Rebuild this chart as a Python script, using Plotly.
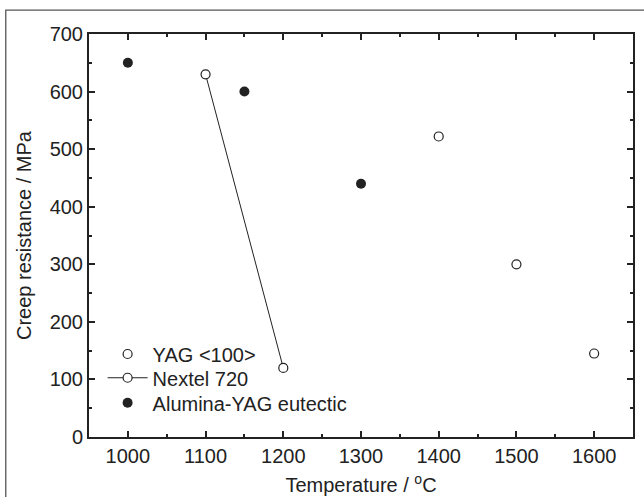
import plotly.graph_objects as go

# Data
yag_T = [1400, 1500, 1600]
yag_S = [522, 300, 145]
nextel_T = [1100, 1200]
nextel_S = [630, 120]
eut_T = [1000, 1150, 1300]
eut_S = [650, 600, 440]

x_ticks = [1000, 1100, 1200, 1300, 1400, 1500, 1600]
y_ticks = [0, 100, 200, 300, 400, 500, 600, 700]

FONT = "Liberation Sans, Arial, sans-serif"
INK = "#222222"
FS = 20

fig = go.Figure()
fig.add_trace(go.Scatter(
    x=yag_T, y=yag_S, mode="markers", name="YAG &lt;100&gt;", legend="legend",
    marker=dict(symbol="circle-open", size=9, color=INK, line=dict(width=1.2, color=INK)),
))
fig.add_trace(go.Scatter(
    x=nextel_T, y=nextel_S, mode="lines+markers", name="Nextel 720", legend="legend2",
    line=dict(color=INK, width=1),
    marker=dict(symbol="circle", size=9, color="white", line=dict(width=1.2, color=INK)),
))
fig.add_trace(go.Scatter(
    x=eut_T, y=eut_S, mode="markers", name="Alumina-YAG eutectic", legend="legend3",
    marker=dict(symbol="circle", size=10, color=INK, line=dict(width=0)),
))

axis_common = dict(
    showline=True, linecolor=INK, linewidth=2, mirror="allticks",
    ticks="inside", ticklen=6, tickwidth=2, tickcolor=INK,
    showgrid=False, zeroline=False, automargin=False,
    tickfont=dict(family=FONT, size=FS, color=INK),
)

fig.update_xaxes(
    range=[950, 1650], tickvals=x_ticks,
    minor=dict(dtick=50, ticks="inside", ticklen=3, tickwidth=2, tickcolor=INK),
    title=dict(text="Temperature / <sup>o</sup>C", font=dict(family=FONT, size=FS, color=INK), standoff=12),
    **axis_common,
)
fig.update_yaxes(
    range=[0, 700], tickvals=y_ticks,
    minor=dict(dtick=50, ticks="inside", ticklen=3, tickwidth=2, tickcolor=INK),
    title=dict(text="Creep resistance / MPa", font=dict(family=FONT, size=FS, color=INK), standoff=13),
    **axis_common,
)

fig.add_shape(type="rect", xref="paper", yref="paper",
              x0=-0.153, y0=-0.2, x1=1.1, y1=1.059,
              line=dict(color="#555555", width=1.3), fillcolor="rgba(0,0,0,0)", layer="below")

leg = dict(x=0.025, xanchor="left", yanchor="middle", bgcolor="rgba(0,0,0,0)",
           font=dict(family=FONT, size=FS, color=INK), itemwidth=40)

fig.update_layout(
    width=644, height=497,
    margin=dict(l=89, r=11, t=34, b=60),
    paper_bgcolor="white", plot_bgcolor="white",
    font=dict(family=FONT, size=FS, color=INK),
    legend=dict(y=0.206, **leg),
    legend2=dict(y=0.147, **leg),
    legend3=dict(y=0.085, **leg),
    showlegend=True,
)

fig.write_html("out.html")
